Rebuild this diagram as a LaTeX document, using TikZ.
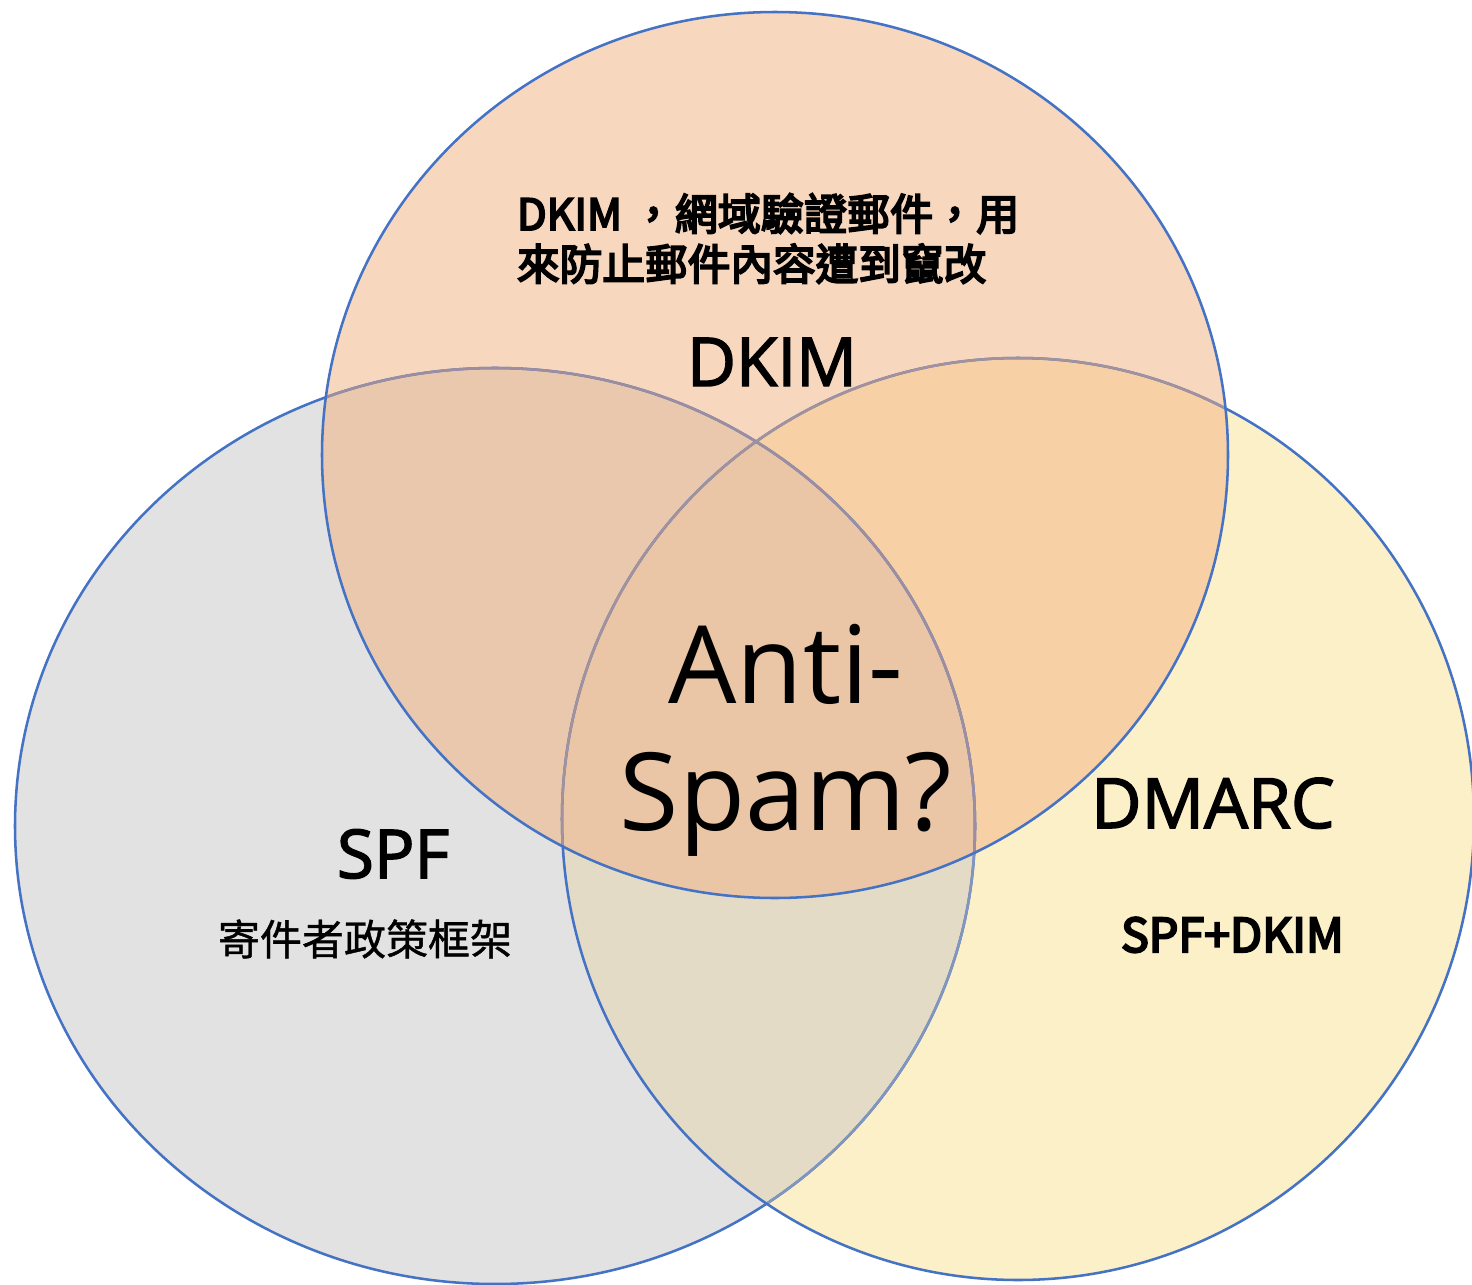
\documentclass[tikz,border=0pt]{standalone}
\usepackage{fontspec}
\setmainfont{Open Sans}
\newfontfamily\cjkb{Noto Sans CJK TC}[FakeBold=4.5]
\newfontfamily\cjkm{Noto Sans CJK TC}[FakeBold=1]
\newfontfamily\titlefont{Open Sans}[FakeBold=2.2]
\definecolor{spfgray}{HTML}{E2E2E2}
\definecolor{dmyellow}{HTML}{FCF0C9}
\definecolor{dkpeach}{HTML}{F7D7BE}
\definecolor{spfdm}{HTML}{E3DBC6}
\definecolor{spfdk}{HTML}{E9C8AE}
\definecolor{dkdm}{HTML}{F7D0A6}
\definecolor{allthree}{HTML}{EAC6A6}
\definecolor{edgeblue}{HTML}{4472C4}
\definecolor{fadeA}{HTML}{8296BD}
\definecolor{fadeB}{HTML}{9C8DA0}
\definecolor{fadeC}{HTML}{A3929C}
\newcommand\SPFpath{(495,826) ellipse [x radius=360pt, y radius=343.5pt]}
\newcommand\DMpath{(1018,819) ellipse [x radius=342pt, y radius=345.75pt]}
\newcommand\DKpath{(775,455) ellipse [x radius=339.75pt, y radius=332.25pt]}
\tikzset{
  rim/.style={line width=1.9pt},
  lbl/.style={inner sep=0pt, outer sep=0pt, text=black},
}
\begin{document}
\begin{tikzpicture}[x=0.75pt,y=-0.75pt]
\useasboundingbox[fill=white] (0,0) rectangle (1472,1285);
% base fills
\fill[spfgray] \SPFpath;
\fill[dmyellow] \DMpath;
\fill[dkpeach] \DKpath;
\begin{scope}\clip \SPFpath; \fill[spfdm] \DMpath; \end{scope}
\begin{scope}\clip \SPFpath; \fill[spfdk] \DKpath; \end{scope}
\begin{scope}\clip \DMpath; \fill[dkdm] \DKpath; \end{scope}
\begin{scope}\clip \SPFpath; \clip \DMpath; \fill[allthree] \DKpath; \end{scope}
% outlines
\draw[rim, edgeblue] \SPFpath;
\begin{scope}\clip \DMpath; \draw[rim, fadeA] \SPFpath; \end{scope}
\begin{scope}\clip \DKpath; \draw[rim, fadeB] \SPFpath; \end{scope}
\draw[rim, edgeblue] \DMpath;
\begin{scope}\clip \DKpath; \draw[rim, fadeC] \DMpath; \end{scope}
\draw[rim, edgeblue] \DKpath;
% texts
\node[lbl, anchor=base west] (dkdesc1) at (517,230) {\cjkb\fontsize{32.3pt}{40pt}\selectfont DKIM ，網域驗證郵件，用};
\node[lbl, anchor=base west] (dkdesc2) at (517,280) {\cjkb\fontsize{32pt}{40pt}\selectfont 來防止郵件內容遭到竄改};
\node[lbl, anchor=base west] (dktitle) at (687,386) {\titlefont\fontsize{50.5pt}{60pt}\selectfont DKIM};
\node[lbl, anchor=base] (anti) at (786,703) {\fontsize{81pt}{90pt}\selectfont Anti-};
\node[lbl, anchor=base] (spam) at (786,830) {\fontsize{81pt}{90pt}\selectfont Spam?};
\node[lbl, anchor=base west] (dmtitle) at (1091,828) {\titlefont\fontsize{52pt}{60pt}\selectfont DMARC};
\node[lbl, anchor=base west] (dmdesc) at (1121,952) {\cjkb\fontsize{35pt}{44pt}\selectfont SPF+DKIM};
\node[lbl, anchor=base west] (spftitle) at (337,878) {\titlefont\fontsize{50.5pt}{60pt}\selectfont SPF};
\node[lbl, anchor=base west] (spfdesc) at (218,955) {\cjkm\fontsize{31.5pt}{40pt}\selectfont 寄件者政策框架};
\end{tikzpicture}
\end{document}
